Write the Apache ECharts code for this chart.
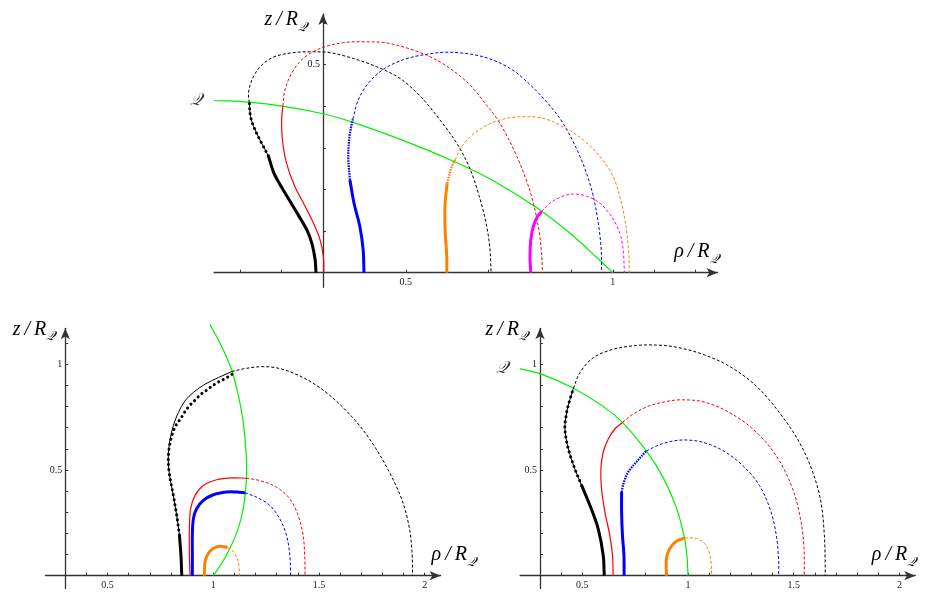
<!DOCTYPE html>
<html>
<head>
<meta charset="utf-8">
<script src="https://cdn.jsdelivr.net/npm/echarts@6.0.0/dist/echarts.min.js"></script>
<style>
html, body { margin: 0; padding: 0; background: #fff; }
#chart { width: 935px; height: 593px; }
</style>
</head>
<body>
<div id="chart"></div>
<script>
// ---- top panel curves, [rho, z] ----
const topBlackThick = [[0.283, 0], [0.281, 0.031], [0.273, 0.071], [0.261, 0.103], [0.240, 0.139], [0.216, 0.179], [0.192, 0.219], [0.180, 0.243], [0.168, 0.281]]
const topBlackDots = [[0.168, 0.281], [0.152, 0.311], [0.136, 0.343], [0.125, 0.375], [0.122, 0.409]]
const topBlackDash = [[0.122, 0.409], [0.120, 0.431], [0.128, 0.463], [0.148, 0.495], [0.180, 0.518], [0.228, 0.529], [0.277, 0.531], [0.317, 0.529], [0.373, 0.515], [0.430, 0.495], [0.486, 0.467], [0.538, 0.421], [0.585, 0.364], [0.625, 0.308], [0.655, 0.250], [0.677, 0.185], [0.694, 0.119], [0.703, 0.060], [0.706, 0]]
const topRedSolid = [[0.302, 0], [0.301, 0.038], [0.293, 0.079], [0.277, 0.119], [0.257, 0.159], [0.232, 0.207], [0.212, 0.263], [0.202, 0.319], [0.200, 0.367], [0.203, 0.401]]
const topRedDash = [[0.203, 0.401], [0.208, 0.439], [0.224, 0.479], [0.252, 0.515], [0.293, 0.539], [0.349, 0.553], [0.406, 0.555], [0.462, 0.551], [0.550, 0.523], [0.607, 0.491], [0.655, 0.451], [0.695, 0.403], [0.727, 0.360], [0.768, 0.280], [0.800, 0.196], [0.820, 0.112], [0.828, 0.045], [0.830, 0]]
const topBlueThick = [[0.399, 0], [0.397, 0.055], [0.389, 0.111], [0.375, 0.167], [0.365, 0.223]]
const topBlueDots = [[0.365, 0.223], [0.361, 0.279], [0.364, 0.327], [0.372, 0.369]]
const topBlueDash = [[0.372, 0.369], [0.385, 0.415], [0.409, 0.455], [0.446, 0.489], [0.494, 0.512], [0.550, 0.525], [0.607, 0.530], [0.687, 0.519], [0.752, 0.491], [0.800, 0.452], [0.845, 0.405], [0.880, 0.359], [0.921, 0.279], [0.949, 0.199], [0.965, 0.119], [0.972, 0.055], [0.973, 0]]
const topOrangeThick = [[0.599, 0], [0.599, 0.038], [0.595, 0.103], [0.595, 0.167], [0.600, 0.215]]
const topOrangeDots = [[0.600, 0.215], [0.611, 0.255], [0.619, 0.271]]
const topOrangeDash = [[0.619, 0.271], [0.635, 0.303], [0.663, 0.333], [0.703, 0.358], [0.744, 0.371], [0.788, 0.375], [0.832, 0.371], [0.880, 0.351], [0.929, 0.319], [0.969, 0.279], [1.001, 0.231], [1.021, 0.167], [1.033, 0.103], [1.039, 0.038], [1.040, 0]]
const topMagentaThick = [[0.802, 0], [0.800, 0.038], [0.802, 0.079], [0.808, 0.111], [0.818, 0.135], [0.828, 0.147]]
const topMagentaDash = [[0.828, 0.147], [0.848, 0.167], [0.877, 0.183], [0.905, 0.189], [0.937, 0.184], [0.969, 0.167], [0.997, 0.135], [1.017, 0.095], [1.025, 0.055], [1.028, 0]]
const topGreen = [[0.037, 0.414], [0.120, 0.410], [0.205, 0.400], [0.300, 0.382], [0.371, 0.362], [0.493, 0.318], [0.615, 0.268], [0.704, 0.225], [0.818, 0.155], [0.899, 0.093], [0.964, 0.034], [1.0, 0]]

// ---- bottom left panel ----
const blBlackThick = [[0.851, 0], [0.847, 0.097], [0.840, 0.192]]
const blBlackLine = [[0.840, 0.192], [0.827, 0.286], [0.811, 0.380], [0.796, 0.458], [0.788, 0.521], [0.788, 0.584], [0.796, 0.647], [0.811, 0.710], [0.835, 0.772], [0.866, 0.827], [0.906, 0.867], [0.961, 0.906], [1.024, 0.937], [1.087, 0.966]]
const blBlackDots = [[0.840, 0.192], [0.827, 0.286], [0.811, 0.380], [0.796, 0.458], [0.788, 0.521], [0.789, 0.584], [0.800, 0.647], [0.820, 0.705], [0.847, 0.745], [0.866, 0.776], [0.890, 0.807], [0.914, 0.831], [0.941, 0.858], [0.969, 0.878], [0.997, 0.899], [1.027, 0.918], [1.059, 0.934], [1.090, 0.954]]
const blBlackDash = [[1.087, 0.966], [1.157, 0.981], [1.236, 0.989], [1.314, 0.980], [1.409, 0.945], [1.503, 0.890], [1.597, 0.812], [1.692, 0.710], [1.770, 0.600], [1.841, 0.474], [1.896, 0.349], [1.928, 0.223], [1.940, 0.113], [1.943, 0]]
const blRedSolid = [[0.890, 0], [0.887, 0.097], [0.887, 0.223], [0.893, 0.317], [0.914, 0.380], [0.953, 0.427], [1.016, 0.454], [1.094, 0.463], [1.156, 0.461]]
const blRedDash = [[1.156, 0.461], [1.220, 0.450], [1.299, 0.419], [1.362, 0.364], [1.401, 0.286], [1.425, 0.192], [1.433, 0.082], [1.434, 0]]
const blBlueThick = [[0.901, 0], [0.901, 0.097], [0.901, 0.192], [0.906, 0.270], [0.921, 0.317], [0.953, 0.356], [1.0, 0.383], [1.063, 0.396], [1.110, 0.396], [1.150, 0.392]]
const blBlueDash = [[1.150, 0.392], [1.204, 0.372], [1.267, 0.333], [1.314, 0.270], [1.346, 0.192], [1.362, 0.097], [1.366, 0]]
const blOrangeThick = [[0.958, 0], [0.961, 0.066], [0.976, 0.105], [1.0, 0.129], [1.031, 0.139], [1.068, 0.133]]
const blOrangeDash = [[1.068, 0.133], [1.092, 0.117], [1.110, 0.089], [1.121, 0.050], [1.123, 0]]
const blGreen = [[0.984, 1.189], [1.040, 1.083], [1.087, 0.973], [1.118, 0.855], [1.139, 0.745], [1.151, 0.634], [1.158, 0.524], [1.155, 0.429], [1.142, 0.319], [1.118, 0.224], [1.079, 0.130], [1.040, 0.059], [1.0, 0]]

// ---- bottom right panel ----
const brBlackThick = [[0.604, 0], [0.599, 0.097], [0.575, 0.223], [0.536, 0.333], [0.497, 0.427]]
const brBlackDots = [[0.497, 0.427], [0.465, 0.505], [0.434, 0.600], [0.418, 0.694], [0.426, 0.772], [0.442, 0.835], [0.458, 0.886]]
const brBlackDash = [[0.458, 0.886], [0.489, 0.961], [0.552, 1.031], [0.646, 1.071], [0.756, 1.089], [0.851, 1.091], [0.945, 1.081], [1.071, 1.047], [1.197, 0.990], [1.322, 0.898], [1.432, 0.772], [1.527, 0.631], [1.590, 0.490], [1.629, 0.349], [1.645, 0.192], [1.649, 0.066], [1.649, 0]]
const brRedSolid = [[0.646, 0], [0.643, 0.097], [0.630, 0.192], [0.607, 0.301], [0.591, 0.411], [0.588, 0.505], [0.599, 0.584], [0.623, 0.647], [0.654, 0.694], [0.690, 0.725]]
const brRedDash = [[0.690, 0.725], [0.741, 0.765], [0.819, 0.804], [0.914, 0.827], [0.976, 0.832], [1.071, 0.823], [1.181, 0.780], [1.307, 0.694], [1.417, 0.568], [1.495, 0.411], [1.535, 0.254], [1.549, 0.129], [1.550, 0]]
const brBlueThick = [[0.698, 0], [0.697, 0.097], [0.690, 0.192], [0.686, 0.301], [0.686, 0.396]]
const brBlueDots = [[0.686, 0.396], [0.697, 0.443], [0.717, 0.490], [0.748, 0.529], [0.803, 0.590]]
const brBlueDash = [[0.803, 0.590], [0.866, 0.620], [0.929, 0.637], [0.992, 0.642], [1.071, 0.631], [1.165, 0.592], [1.259, 0.521], [1.338, 0.427], [1.393, 0.301], [1.420, 0.176], [1.429, 0.066], [1.429, 0]]
const brOrangeThick = [[0.898, 0], [0.898, 0.082], [0.914, 0.129], [0.945, 0.163], [0.985, 0.179]]
const brOrangeDash = [[0.985, 0.179], [1.039, 0.176], [1.079, 0.152], [1.102, 0.105], [1.110, 0.050], [1.112, 0]]
const brGreen = [[0.206, 0.978], [0.300, 0.956], [0.458, 0.887], [0.599, 0.801], [0.690, 0.725], [0.803, 0.590], [0.882, 0.465], [0.945, 0.322], [0.984, 0.176], [0.996, 0.082], [1.0, 0]]

// ---- ticks ----
const topXTicks = [0.1, 0.2, 0.4, 0.5, 0.6, 0.7, 0.8, 0.9, 1.0, 1.1, 1.2]
const topXLabels = [0.5, 1]
const topYTicks = [0.1, 0.2, 0.3, 0.4, 0.5, 0.6]
const topYLabels = [0.5]
const botXTicks = [0.4, 0.5, 0.6, 0.7, 0.8, 0.9, 1.0, 1.1, 1.2, 1.3, 1.4, 1.5, 1.6, 1.7, 1.8, 1.9, 2.0]
const botXLabels = [0.5, 1, 1.5, 2]
const botYTicks = [0.1, 0.2, 0.3, 0.4, 0.5, 0.6, 0.7, 0.8, 0.9, 1.0, 1.1]
const botYLabels = [0.5, 1]

const BLACK = '#000000'
const RED = '#ff0000'
const BLUE = '#0000ff'
const ORANGE = '#ff8000'
const MAGENTA = '#ff00ff'
const GREEN = '#00f000'
const AXIS = '#333333'
const SERIF = '"Liberation Serif", "DejaVu Serif", serif'
const DASH = [3, 2]
const DOTS = [0.1, 5]
const FINE = [1.6, 1]

// panel layout: pixel of (rho=0.3, z=0), px per unit, axis extents
const panels = [
  { ox: 323, oy: 272.7, sx: 414, sy: 416, x: [0.037, 1.253], y: [-0.035, 0.622],
    xTicks: topXTicks, xLabels: topXLabels, yTicks: topYTicks, yLabels: topYLabels,
    xNameGap: 1, xNameAlign: 'right', yNameGap: -8, yNamePad: 16 },
  { ox: 65.3, oy: 575.7, sx: 211.4, sy: 211.4, x: [0.206, 2.075], y: [-0.06, 1.17],
    xTicks: botXTicks, xLabels: botXLabels, yTicks: botYTicks, yLabels: botYLabels,
    xNameGap: -9, xNameAlign: 'left', yNameGap: -3, yNamePad: 10 },
  { ox: 540, oy: 575.7, sx: 211.4, sy: 211.4, x: [0.206, 2.075], y: [-0.06, 1.17],
    xTicks: botXTicks, xLabels: botXLabels, yTicks: botYTicks, yLabels: botYLabels,
    xNameGap: 1, xNameAlign: 'right', yNameGap: -3, yNamePad: 12 }
]

const nameRich = {
  m: { fontFamily: SERIF, fontStyle: 'italic', fontSize: 20, color: '#000', verticalAlign: 'bottom', padding: [0, 0, 4, 0] },
  s: { fontFamily: SERIF, fontStyle: 'italic', fontSize: 13, color: '#000', verticalAlign: 'bottom' }
}

const grids = []
const xAxes = []
const yAxes = []
panels.forEach((p, i) => {
  const left = p.ox + (p.x[0] - 0.3) * p.sx
  const width = (p.x[1] - p.x[0]) * p.sx
  const top = p.oy - p.y[1] * p.sy
  const height = (p.y[1] - p.y[0]) * p.sy
  grids.push({ left, top, width, height, containLabel: false, outerBoundsMode: 'none' })
  xAxes.push({
    type: 'value', gridIndex: i, min: p.x[0], max: p.x[1],
    // move the axis up to z = 0
    offset: p.y[0] * p.sy,
    splitLine: { show: false },
    axisLine: { onZero: false, symbol: ['none', 'arrow'], symbolSize: [7, 11], lineStyle: { color: AXIS, width: 1.3 } },
    axisTick: { inside: true, length: 3, customValues: p.xTicks, lineStyle: { color: AXIS, width: 1 } },
    axisLabel: { customValues: p.xLabels, margin: 5, fontFamily: SERIF, fontSize: 10, color: '#222' },
    name: '{m|ρ\u2009/\u2009R}{s|𝒬}', nameLocation: 'end', nameGap: p.xNameGap,
    nameTextStyle: { align: p.xNameAlign, verticalAlign: 'bottom', padding: [0, 0, 7, 0], rich: nameRich }
  })
  yAxes.push({
    type: 'value', gridIndex: i, min: p.y[0], max: p.y[1],
    // move the axis to rho = 0.3
    offset: -(0.3 - p.x[0]) * p.sx,
    splitLine: { show: false },
    axisLine: { onZero: false, symbol: ['none', 'arrow'], symbolSize: [7, 11], lineStyle: { color: AXIS, width: 1.3 } },
    axisTick: { inside: true, length: 3, customValues: p.yTicks, lineStyle: { color: AXIS, width: 1 } },
    axisLabel: { customValues: p.yLabels, margin: 3, fontFamily: SERIF, fontSize: 10, color: '#222' },
    name: '{m|z\u2009/\u2009R}{s|𝒬}', nameLocation: 'end', nameGap: p.yNameGap,
    nameTextStyle: { align: 'right', verticalAlign: 'middle', padding: [0, p.yNamePad, 0, 0], rich: nameRich }
  })
})

// smooth path through pixel points: tangent along neighbours, handles = segment / 3
function smoothPath(pts) {
  const unit = (dx, dy) => { const l = Math.hypot(dx, dy) || 1; return [dx / l, dy / l] }
  let d = 'M' + pts[0][0] + ' ' + pts[0][1]
  for (let i = 0; i < pts.length - 1; i++) {
    const p0 = pts[Math.max(i - 1, 0)]
    const p1 = pts[i]
    const p2 = pts[i + 1]
    const p3 = pts[Math.min(i + 2, pts.length - 1)]
    const len = Math.hypot(p2[0] - p1[0], p2[1] - p1[1]) / 3
    const t1 = unit(p2[0] - p0[0], p2[1] - p0[1])
    const t2 = unit(p3[0] - p1[0], p3[1] - p1[1])
    d += ' C' + (p1[0] + t1[0] * len) + ' ' + (p1[1] + t1[1] * len) + ' ' +
      (p2[0] - t2[0] * len) + ' ' + (p2[1] - t2[1] * len) + ' ' + p2[0] + ' ' + p2[1]
  }
  return d
}

function curve(g, data, color, width, dash) {
  return {
    type: 'custom', xAxisIndex: g, yAxisIndex: g, data: data, silent: true, animation: false,
    renderItem: function (params, api) {
      if (params.dataIndex !== 0) return null
      const pts = data.map(d => api.coord(d))
      return {
        type: 'path',
        shape: { pathData: smoothPath(pts) },
        style: { fill: 'none', stroke: color, lineWidth: width, lineDash: dash || null, lineCap: dash === DOTS ? 'round' : 'butt', lineJoin: 'round' }
      }
    }
  }
}

function qLabel(g, pt, offset) {
  return {
    type: 'scatter', xAxisIndex: g, yAxisIndex: g, data: [pt], symbolSize: 0, silent: true, animation: false,
    label: { show: true, position: 'left', distance: 12, offset: offset, formatter: '𝒬',
      fontFamily: SERIF, fontStyle: 'italic', fontSize: 17, color: '#000' }
  }
}

const series = [
  // top
  curve(0, topGreen, GREEN, 1.2),
  curve(0, topBlackThick, BLACK, 3),
  curve(0, topBlackDots, BLACK, 1),
  curve(0, topBlackDots, BLACK, 3, DOTS),
  curve(0, topBlackDash, BLACK, 1, DASH),
  curve(0, topRedSolid, RED, 1.2),
  curve(0, topRedDash, RED, 1, DASH),
  curve(0, topBlueThick, BLUE, 3),
  curve(0, topBlueDots, BLUE, 2.2, FINE),
  curve(0, topBlueDash, BLUE, 1, DASH),
  curve(0, topOrangeThick, ORANGE, 3),
  curve(0, topOrangeDots, ORANGE, 2.2, FINE),
  curve(0, topOrangeDash, ORANGE, 1, DASH),
  curve(0, topMagentaThick, MAGENTA, 3),
  curve(0, topMagentaDash, MAGENTA, 1, DASH),
  qLabel(0, topGreen[0], [0, 0]),
  // bottom left
  curve(1, blGreen, GREEN, 1.2),
  curve(1, blBlackThick, BLACK, 3),
  curve(1, blBlackLine, BLACK, 1),
  curve(1, blBlackDots, BLACK, 3, DOTS),
  curve(1, blBlackDash, BLACK, 1, DASH),
  curve(1, blRedSolid, RED, 1.2),
  curve(1, blRedDash, RED, 1, DASH),
  curve(1, blBlueThick, BLUE, 3),
  curve(1, blBlueDash, BLUE, 1, DASH),
  curve(1, blOrangeThick, ORANGE, 3),
  curve(1, blOrangeDash, ORANGE, 1, DASH),
  qLabel(1, blGreen[0], [0, -9]),
  // bottom right
  curve(2, brGreen, GREEN, 1.2),
  curve(2, brBlackThick, BLACK, 3),
  curve(2, brBlackDots, BLACK, 1),
  curve(2, brBlackDots, BLACK, 3, DOTS),
  curve(2, brBlackDash, BLACK, 1, DASH),
  curve(2, brRedSolid, RED, 1.2),
  curve(2, brRedDash, RED, 1, DASH),
  curve(2, brBlueThick, BLUE, 3),
  curve(2, brBlueDots, BLUE, 2.2, FINE),
  curve(2, brBlueDash, BLUE, 1, DASH),
  curve(2, brOrangeThick, ORANGE, 3),
  curve(2, brOrangeDash, ORANGE, 1, DASH),
  qLabel(2, brGreen[0], [0, 0])
]

const chart = echarts.init(document.getElementById('chart'), null, { renderer: 'canvas' })
chart.setOption({
  backgroundColor: '#ffffff',
  animation: false,
  grid: grids,
  xAxis: xAxes,
  yAxis: yAxes,
  series: series
})
</script>
</body>
</html>
